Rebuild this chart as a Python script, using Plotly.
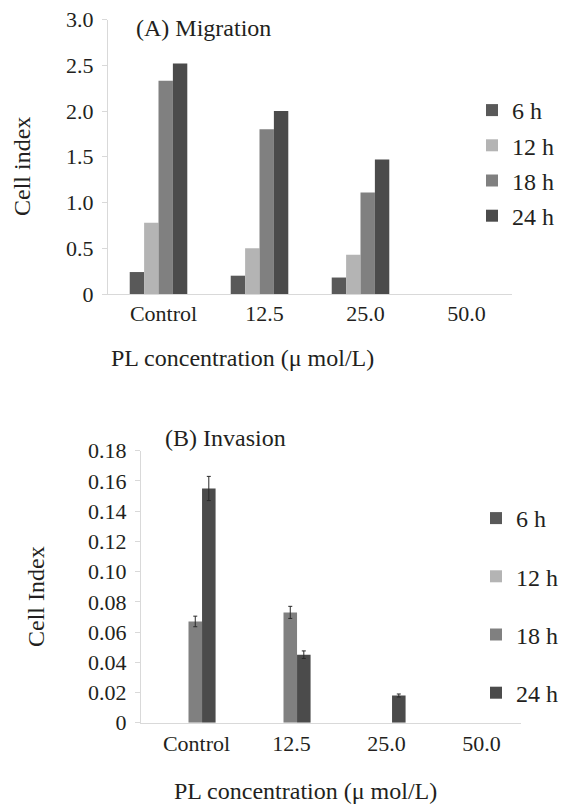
import plotly.graph_objects as go

categories = ["Control", "12.5", "25.0", "50.0"]
series_names = ["6 h", "12 h", "18 h", "24 h"]
series_colors = ["#595959", "#b4b4b4", "#808080", "#4b4b4b"]

# (A) Migration
mig_6h = [0.24, 0.20, 0.18, 0]
mig_12h = [0.78, 0.50, 0.43, 0]
mig_18h = [2.33, 1.80, 1.11, 0]
mig_24h = [2.52, 2.00, 1.47, 0]
mig_ticks = [0, 0.5, 1.0, 1.5, 2.0, 2.5, 3.0]
mig_ticktext = ["0", "0.5", "1.0", "1.5", "2.0", "2.5", "3.0"]

# (B) Invasion
inv_6h = [0, 0, 0, 0]
inv_12h = [0, 0, 0, 0]
inv_18h = [0.067, 0.073, 0, 0]
inv_24h = [0.155, 0.045, 0.018, 0]
inv_18h_err = [0.0035, 0.004, 0, 0]
inv_24h_err = [0.008, 0.0025, 0.001, 0]
inv_ticks = [0, 0.02, 0.04, 0.06, 0.08, 0.10, 0.12, 0.14, 0.16, 0.18]
inv_ticktext = ["0", "0.02", "0.04", "0.06", "0.08", "0.10", "0.12", "0.14", "0.16", "0.18"]

FONT = "Liberation Serif"
TXT = "#231f20"
AX = "#d9d9d9"
FS = 22
FS_T = 24

fig = go.Figure()

mig = [mig_6h, mig_12h, mig_18h, mig_24h]
for name, vals, col in zip(series_names, mig, series_colors):
    fig.add_trace(go.Bar(
        x=categories, y=vals, name=name, marker=dict(color=col, line=dict(width=0)),
        xaxis="x", yaxis="y", legend="legend", legendgroup="a" + name,
    ))

inv = [inv_6h, inv_12h, inv_18h, inv_24h]
inv_err = [None, None, inv_18h_err, inv_24h_err]
for name, vals, err, col in zip(series_names, inv, inv_err, series_colors):
    kw = {}
    yvals = vals
    if err is not None:
        # categories with no bar get no error bar
        yvals = [v if v > 0 else None for v in vals]
        kw["error_y"] = dict(type="data", array=err, visible=True,
                             color="#2a2a2a", thickness=1, width=2)
    fig.add_trace(go.Bar(
        x=categories, y=yvals, name=name, marker=dict(color=col, line=dict(width=0)),
        xaxis="x2", yaxis="y2", legend="legend2", legendgroup="b" + name, **kw,
    ))

W, H = 563, 804

def px_x(p):
    return p / W

def px_y(p):
    return 1 - p / H

axis_common = dict(showgrid=False, zeroline=False, showline=True, linecolor=AX,
                   linewidth=1, tickfont=dict(family=FONT, size=FS, color=TXT))

fig.update_layout(
    template="none",
    width=W, height=H,
    margin=dict(l=0, r=0, t=0, b=0),
    paper_bgcolor="white", plot_bgcolor="white",
    font=dict(family=FONT, size=FS, color=TXT),
    barmode="group",
    bargap=0.43,
    xaxis=dict(domain=[px_x(108), px_x(512)], anchor="y", type="category",
               range=[-0.5, 3.5], ticks="", ticklabelshift=5,
               ticklabelstandoff=0, **axis_common),
    yaxis=dict(domain=[px_y(294), px_y(19.5)], anchor="x", range=[0, 3.0],
               tickvals=mig_ticks, ticktext=mig_ticktext, ticks="outside",
               ticklen=5, tickcolor=AX, ticklabelstandoff=4, **axis_common),
    xaxis2=dict(domain=[px_x(141), px_x(521)], anchor="y2", type="category",
                range=[-0.5, 3.5], ticks="", ticklabelshift=8,
                ticklabelstandoff=1, **axis_common),
    yaxis2=dict(domain=[px_y(722.7), px_y(450.7)], anchor="x2", range=[0, 0.18],
                tickvals=inv_ticks, ticktext=inv_ticktext, ticks="outside",
                ticklen=5, tickcolor=AX, ticklabelstandoff=4, **axis_common),
    legend=dict(x=px_x(472), y=px_y(88), xanchor="left", yanchor="top",
                font=dict(family=FONT, size=FS_T, color=TXT),
                tracegroupgap=1, bgcolor="rgba(0,0,0,0)"),
    legend2=dict(x=px_x(476), y=px_y(496), xanchor="left", yanchor="top",
                 font=dict(family=FONT, size=FS_T, color=TXT),
                 tracegroupgap=24, bgcolor="rgba(0,0,0,0)"),
    annotations=[
        dict(text="(A) Migration", x=px_x(134), y=px_y(28), xref="paper", yref="paper",
             xanchor="left", yanchor="middle", showarrow=False,
             font=dict(family=FONT, size=FS_T, color=TXT)),
        dict(text="Cell index", x=px_x(22), y=px_y(167), xref="paper", yref="paper",
             xanchor="center", yanchor="middle", textangle=-90, showarrow=False,
             font=dict(family=FONT, size=FS_T, color=TXT)),
        dict(text="PL concentration (\u03bc mol/L)", x=px_x(242), y=px_y(358),
             xref="paper", yref="paper", xanchor="center", yanchor="middle",
             showarrow=False, font=dict(family=FONT, size=FS_T, color=TXT)),
        dict(text="(B) Invasion", x=px_x(163), y=px_y(438), xref="paper", yref="paper",
             xanchor="left", yanchor="middle", showarrow=False,
             font=dict(family=FONT, size=FS_T, color=TXT)),
        dict(text="Cell Index", x=px_x(36), y=px_y(597), xref="paper", yref="paper",
             xanchor="center", yanchor="middle", textangle=-90, showarrow=False,
             font=dict(family=FONT, size=FS_T, color=TXT)),
        dict(text="PL concentration (\u03bc mol/L)", x=px_x(305), y=px_y(791),
             xref="paper", yref="paper", xanchor="center", yanchor="middle",
             showarrow=False, font=dict(family=FONT, size=FS_T, color=TXT)),
    ],
)

fig.write_html("out.html", config={"displayModeBar": False},
               post_script="document.body.style.margin='0';")
